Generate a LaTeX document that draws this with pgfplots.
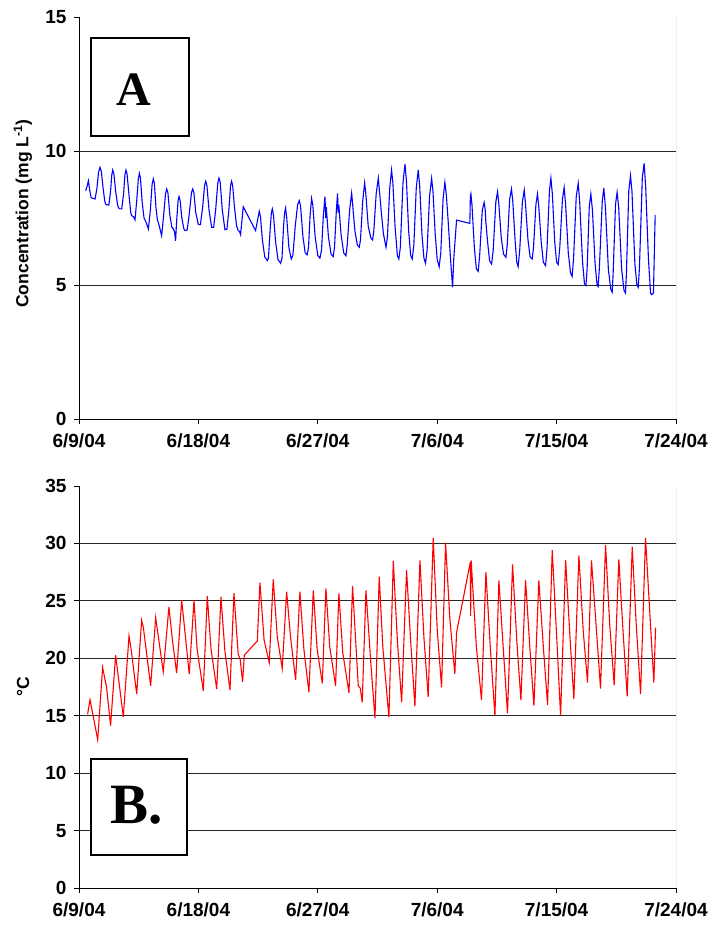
\documentclass[border=0pt]{standalone}
\usepackage{pgfplots}
\pgfplotsset{compat=1.18}
\usepackage{fontspec}
\setmainfont{Liberation Sans}
\newfontfamily\serifb{Liberation Serif}

\pgfplotstableread{
day conc
0.50 8.52
0.62 8.70
0.71 8.89
0.80 8.55
0.92 8.25
1.21 8.21
1.35 8.60
1.47 9.20
1.58 9.39
1.68 9.25
1.82 8.60
1.95 8.10
2.03 8.00
2.25 7.98
2.38 8.50
2.47 9.10
2.54 9.29
2.63 9.15
2.76 8.50
2.92 7.95
3.04 7.84
3.22 7.84
3.36 8.40
3.46 9.10
3.54 9.29
3.62 9.15
3.76 8.40
3.90 7.70
3.97 7.59
4.10 7.55
4.22 7.43
4.36 8.20
4.47 8.95
4.55 9.17
4.63 9.00
4.76 8.10
4.90 7.50
5.05 7.35
5.23 7.09
5.38 7.80
5.51 8.75
5.60 8.96
5.68 8.80
5.80 7.90
5.90 7.46
6.05 7.20
6.23 6.84
6.36 7.50
6.52 8.40
6.61 8.58
6.70 8.45
6.85 7.60
7.00 7.15
7.10 7.10
7.20 7.00
7.28 6.65
7.36 7.40
7.47 8.15
7.54 8.30
7.62 8.15
7.75 7.50
7.90 7.10
7.99 7.03
8.15 7.05
8.30 7.60
8.48 8.45
8.57 8.58
8.66 8.45
8.80 7.70
9.00 7.25
9.15 7.25
9.32 7.90
9.46 8.70
9.55 8.87
9.64 8.72
9.80 7.80
10.00 7.15
10.15 7.15
10.30 7.80
10.46 8.80
10.55 8.99
10.64 8.85
10.80 7.80
11.00 7.06
11.15 7.08
11.30 7.80
11.42 8.70
11.50 8.87
11.58 8.72
11.72 7.90
11.88 7.20
12.00 7.03
12.10 7.00
12.18 6.88
12.30 7.50
12.38 7.92
13.31 7.03
13.45 7.40
13.59 7.75
13.68 7.55
13.82 6.70
14.00 6.05
14.19 5.91
14.28 6.00
14.40 7.00
14.50 7.70
14.57 7.84
14.66 7.60
14.82 6.60
15.00 5.95
15.20 5.81
15.30 6.00
15.42 7.20
15.50 7.70
15.57 7.87
15.66 7.50
15.82 6.40
16.00 5.97
16.12 6.10
16.30 7.20
16.48 8.00
16.60 8.15
16.70 7.95
16.88 6.80
17.05 6.20
17.20 6.13
17.30 6.40
17.42 7.60
17.53 8.23
17.62 8.00
17.80 6.80
18.00 6.10
18.16 6.00
18.28 6.30
18.42 7.60
18.54 8.30
18.60 7.50
18.64 7.90
18.80 6.80
19.00 6.15
19.16 6.06
19.26 6.40
19.40 7.80
19.49 8.42
19.53 7.70
19.58 8.00
19.75 6.90
19.95 6.20
20.12 6.09
20.22 6.50
20.40 7.80
20.55 8.43
20.63 8.00
20.66 7.80
20.80 7.00
20.98 6.50
21.13 6.41
21.22 6.70
21.38 8.10
21.53 8.81
21.62 8.40
21.80 7.20
22.00 6.75
22.13 6.68
22.22 7.00
22.40 8.40
22.56 8.99
22.65 8.50
22.81 7.59
22.95 6.90
23.14 6.41
23.25 6.80
23.42 8.60
23.56 9.29
23.66 8.80
23.82 7.20
24.00 6.10
24.11 5.97
24.22 6.40
24.42 8.80
24.57 9.51
24.68 8.90
24.85 7.00
25.00 6.10
25.12 5.97
25.24 6.50
25.42 8.60
25.57 9.29
25.68 8.70
25.85 6.90
26.00 6.00
26.12 5.81
26.24 6.30
26.42 8.30
26.58 8.98
26.68 8.50
26.85 6.90
27.00 5.95
27.15 5.68
27.27 6.20
27.44 8.20
27.58 8.83
27.70 8.30
27.85 7.20
28.00 6.00
28.16 4.91
28.25 6.00
28.46 7.42
29.46 7.30
29.50 8.30
29.54 8.40
29.62 8.00
29.80 6.40
29.95 5.60
30.09 5.51
30.20 6.10
30.40 7.80
30.54 8.08
30.62 7.80
30.66 7.40
30.80 6.60
30.95 5.90
31.10 5.78
31.22 6.30
31.42 8.10
31.55 8.48
31.65 8.00
31.82 6.80
32.00 6.15
32.18 6.03
32.28 6.50
32.46 8.20
32.60 8.58
32.70 8.10
32.88 6.60
33.00 5.85
33.10 5.68
33.22 6.30
33.42 8.10
33.56 8.54
33.66 8.00
33.84 6.70
34.00 6.05
34.16 5.97
34.26 6.40
34.44 8.00
34.56 8.40
34.66 7.90
34.84 6.60
35.00 5.85
35.17 5.72
35.28 6.40
35.46 8.50
35.57 8.99
35.68 8.40
35.86 6.60
36.00 5.85
36.12 5.76
36.24 6.40
36.44 8.20
36.57 8.64
36.68 8.00
36.88 6.20
37.05 5.45
37.17 5.32
37.28 6.00
37.48 8.30
37.63 8.79
37.74 8.10
37.95 5.90
38.10 5.05
38.21 4.98
38.30 5.60
38.46 7.90
38.58 8.40
38.70 7.80
38.90 5.80
39.05 5.00
39.13 4.94
39.22 5.60
39.44 8.10
39.56 8.62
39.68 7.90
39.90 5.60
40.08 4.85
40.19 4.73
40.26 5.40
40.44 8.00
40.56 8.46
40.68 7.90
40.90 5.60
41.08 4.80
41.19 4.70
41.26 5.40
41.44 8.50
41.57 9.08
41.68 8.50
41.90 5.80
42.05 5.00
42.15 4.91
42.24 5.60
42.46 9.00
42.60 9.54
42.72 8.60
42.92 6.00
43.08 4.70
43.16 4.64
43.30 4.70
43.43 7.62
}\conctable

\pgfplotstableread{
day temp
0.65 15.14
0.83 16.39
1.03 15.20
1.41 12.91
1.78 19.20
2.08 17.46
2.38 14.13
2.76 20.27
3.05 17.60
3.34 14.91
3.77 21.95
3.95 20.60
4.35 16.88
4.72 23.31
4.85 22.70
5.40 17.60
5.78 23.54
5.98 21.90
6.35 18.82
6.78 24.47
7.05 21.50
7.36 18.71
7.74 25.05
7.95 22.70
8.31 18.62
8.67 25.05
8.90 20.80
9.37 17.17
9.67 25.42
9.95 20.80
10.38 17.32
10.70 25.34
11.00 20.60
11.38 17.23
11.68 25.66
12.00 20.36
12.15 19.90
12.33 17.95
12.46 20.27
13.44 21.51
13.64 26.58
13.95 21.60
14.34 19.63
14.64 26.87
14.95 21.80
15.32 19.11
15.65 25.80
15.95 21.80
16.33 18.10
16.65 25.80
16.95 20.80
17.33 17.03
17.66 25.92
17.95 20.80
18.34 17.81
18.61 26.09
18.90 21.00
19.34 17.60
19.59 25.66
19.88 20.50
20.35 16.97
20.62 26.29
21.05 17.60
21.20 17.40
21.35 16.16
21.63 25.92
22.00 19.50
22.31 14.80
22.63 27.10
22.90 21.00
23.36 14.85
23.69 28.47
24.00 21.50
24.32 16.16
24.69 27.68
25.00 21.50
25.32 15.81
25.70 28.52
26.00 21.80
26.32 16.65
26.70 30.49
27.00 22.50
27.33 17.46
27.63 30.06
27.95 23.50
28.33 18.62
28.46 22.24
29.50 28.38
29.52 23.69
29.56 28.52
29.95 21.00
30.34 16.36
30.67 27.51
31.00 21.00
31.35 15.00
31.65 26.79
32.00 20.50
32.30 15.20
32.68 28.18
33.00 21.50
33.31 16.36
33.66 26.81
33.98 21.00
34.29 15.87
34.66 26.79
35.00 21.00
35.32 15.95
35.67 29.42
36.00 22.00
36.30 15.00
36.68 28.55
37.00 22.00
37.30 16.45
37.68 28.96
38.00 22.50
38.33 17.89
38.63 28.52
39.00 22.50
39.31 17.37
39.69 29.86
40.00 23.00
40.34 17.66
40.69 28.61
41.00 22.50
41.32 16.68
41.70 29.71
42.00 23.00
42.33 16.88
42.70 30.49
43.00 24.50
43.33 17.89
43.46 22.67
}\temptable

\pgfplotsset{
  panel/.style={
    scale only axis,
    width=597pt, height=402pt,
    xmin=0, xmax=45,
    xtick={0,9,18,27,36,45},
    xticklabels={6/9/04,6/18/04,6/27/04,7/6/04,7/15/04,7/24/04},
    axis x line*=bottom, axis y line*=left,
    tick align=outside,
    major tick length=5pt,
    tick style={black, line width=0.8pt},
    axis line style={black, line width=0.9pt},
    tick label style={font=\bfseries\fontsize{19}{19}\selectfont},
    yticklabel style={xshift=-4pt},
    xticklabel style={yshift=-6pt},
    /pgf/number format/assume math mode=true,
    ylabel style={font=\bfseries\fontsize{17.5}{17.5}\selectfont, anchor=center},
    extra y tick labels={},
    extra y tick style={grid=major, major grid style={black!85, line width=0.8pt}, major tick length=0pt},
  }
}

\begin{document}
\begin{tikzpicture}
\path (0,0) rectangle (709pt,925pt);

% panel A: concentration
\begin{axis}[panel,
    at={(79pt,506pt)}, anchor=south west,
    ymin=0, ymax=15, ytick={0,5,10,15},
    extra y ticks={5,10},
    ylabel={Concentration (mg L\textsuperscript{-1})},
    ylabel style={at={(axis description cs:-0.0938,0.511)}},
]
\addplot[blue, line width=1.1pt] table[x=day, y=conc] {\conctable};
\draw[black!50, line width=1pt] (rel axis cs:1,0) -- (rel axis cs:1,1);
\end{axis}

% panel B: temperature
\begin{axis}[panel,
    at={(79pt,37pt)}, anchor=south west,
    ymin=0, ymax=35, ytick={0,5,...,35},
    extra y ticks={5,10,15,20,25,30},
    ylabel={°C},
    ylabel style={at={(axis description cs:-0.0938,0.5)}},
]
\addplot[red, line width=1.1pt] table[x=day, y=temp] {\temptable};
\draw[black!50, line width=1pt] (rel axis cs:1,0) -- (rel axis cs:1,1);
\end{axis}

\draw[line width=1.5pt, fill=white] (91pt,789pt) rectangle (189pt,887pt);
\node[inner sep=0pt, font=\serifb\bfseries\fontsize{48}{48}\selectfont] at (133.5pt,835.5pt) {A};
\draw[line width=1.5pt, fill=white] (91pt,70pt) rectangle (187pt,166pt);
\node[inner sep=0pt, font=\serifb\bfseries\fontsize{57}{57}\selectfont] at (137pt,119.5pt) {B.};
\end{tikzpicture}
\end{document}
